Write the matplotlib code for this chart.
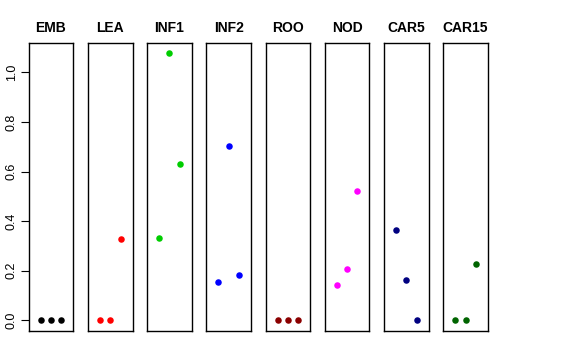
import matplotlib.pyplot as plt

plt.rcParams["font.family"] = ["Liberation Sans", "DejaVu Sans"]

tissues = ["EMB", "LEA", "INF1", "INF2", "ROO", "NOD", "CAR5", "CAR15"]
colors = ["black", "#FF0000", "#00CD00", "#0000FF", "#8B0000", "#FF00FF", "#000080", "#006400"]
reps = [1, 2, 3]
values = [
    [0.0, 0.0, 0.0],
    [0.0, 0.0, 0.33],
    [0.334, 1.077, 0.631],
    [0.153, 0.705, 0.184],
    [0.0, 0.0, 0.0],
    [0.144, 0.208, 0.523],
    [0.363, 0.164, 0.0],
    [0.0, 0.0, 0.227],
]
yticks = [0.0, 0.2, 0.4, 0.6, 0.8, 1.0]

W, H = 576, 360
fig = plt.figure(figsize=(W / 100, H / 100), dpi=100)

left0 = 28.7
step = 59.23
pw = 44.6
top = 42.7
bottom = 331.0
ymax = max(max(v) for v in values)
pad = ymax * 0.04

for i, (name, col, vals) in enumerate(zip(tissues, colors, values)):
    x0 = left0 + step * i
    ax = fig.add_axes([x0 / W, 1 - bottom / H, pw / W, (bottom - top) / H])
    ax.scatter(reps, vals, s=22, color=col, zorder=3, linewidths=0)
    ax.set_xlim(-0.16, 4.16)
    ax.set_ylim(-pad, ymax + pad)
    ax.set_xticks([])
    ax.set_title(name, fontsize=10, fontweight="bold", pad=8)
    for s in ax.spines.values():
        s.set_linewidth(1.0)
    if i == 0:
        ax.set_yticks(yticks)
        ax.set_yticklabels([f"{t:.1f}" for t in yticks], rotation=90, va="center", fontsize=9)
        ax.tick_params(axis="y", length=6, width=0.8, pad=2)
    else:
        ax.set_yticks([])

fig.savefig("out.png", dpi=100)
